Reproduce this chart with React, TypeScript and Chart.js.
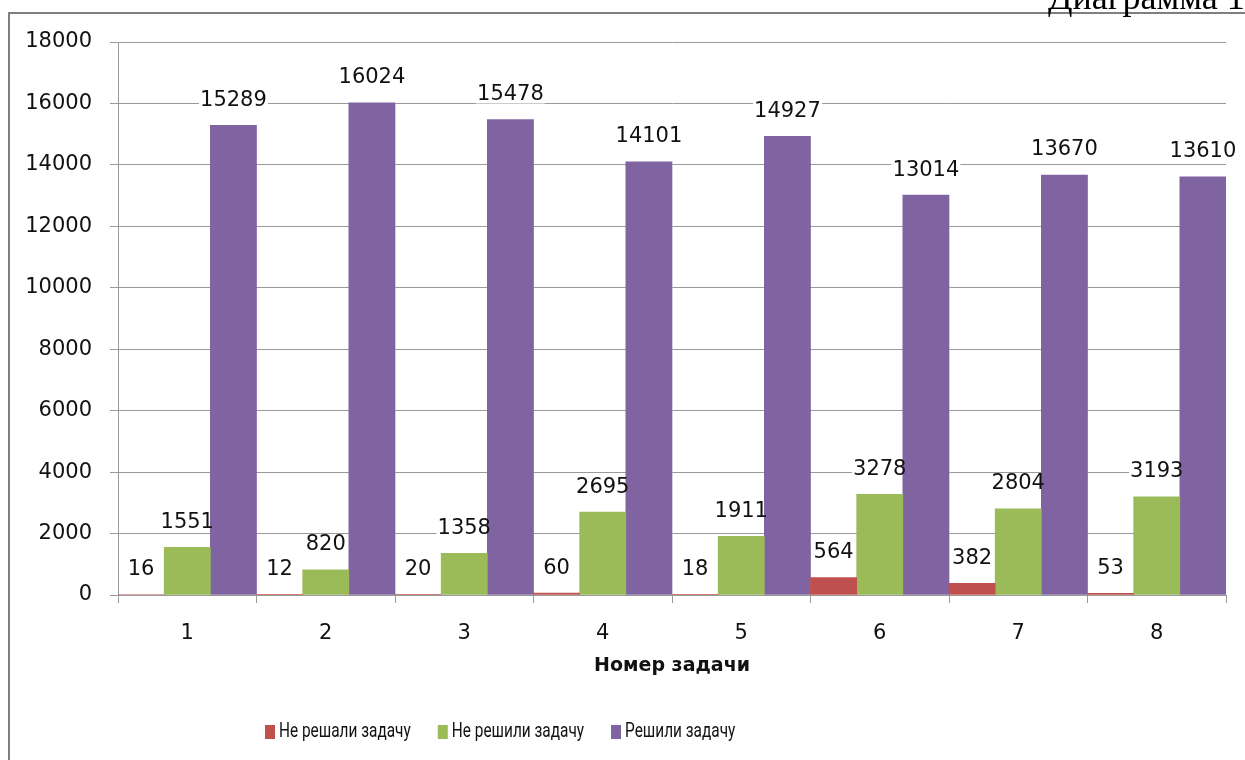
import React, { useEffect, useRef } from 'react';
import { Chart, registerables } from 'chart.js';

Chart.register(...registerables);

const categories = ['1', '2', '3', '4', '5', '6', '7', '8'];
const notAttempted = [16, 12, 20, 60, 18, 564, 382, 53];
const notSolved = [1551, 820, 1358, 2695, 1911, 3278, 2804, 3193];
const solved = [15289, 16024, 15478, 14101, 14927, 13014, 13670, 13610];
const seriesNames = ['Не решали задачу', 'Не решили задачу', 'Решили задачу'];
const seriesColors = ['#C0504D', '#9BBB59', '#8064A2'];
const yMin = 0;
const yMax = 18000;
const yStep = 2000;
const axisTitle = 'Номер задачи';
const captionText = 'Диаграмма 1';

const NUM_FONT = '"DejaVu Sans", sans-serif';
const LEGEND_FONT = 'Roboto, "Liberation Sans", sans-serif';
const GRID = '#9a9a9a';
const TEXT = '#111111';

const framePlugin = {
  id: 'frame',
  beforeDraw(chart: any) {
    const ctx = chart.ctx;
    ctx.save();
    ctx.fillStyle = '#ffffff';
    ctx.fillRect(0, 0, chart.width, chart.height);
    ctx.strokeStyle = '#7f7f7f';
    ctx.lineWidth = 2;
    ctx.strokeRect(9, 13, chart.width + 40, chart.height + 40);
    ctx.fillStyle = '#000000';
    ctx.font = '36px "Liberation Serif", "Times New Roman", serif';
    ctx.textAlign = 'left';
    ctx.textBaseline = 'alphabetic';
    ctx.fillText(captionText, 1048, 9);
    ctx.restore();
  },
};

const LABEL_FONT = '21px ' + NUM_FONT;
const LABEL_OFFSET = 25;

const valueLabelPlugin = {
  id: 'valueLabels',
  beforeDatasetsDraw(chart: any) {
    const ctx = chart.ctx;
    ctx.save();
    ctx.font = LABEL_FONT;
    ctx.fillStyle = '#ffffff';
    chart.data.datasets.forEach((ds: any, di: number) => {
      const meta = chart.getDatasetMeta(di);
      meta.data.forEach((bar: any, i: number) => {
        const txt = String(ds.data[i]);
        const y = bar.y - LABEL_OFFSET;
        const w = ctx.measureText(txt).width;
        ctx.fillRect(bar.x - w / 2 - 1, y - 9, w + 2, 18);
      });
    });
    ctx.restore();
  },
  afterDatasetsDraw(chart: any) {
    const ctx = chart.ctx;
    ctx.save();
    ctx.font = LABEL_FONT;
    ctx.textAlign = 'center';
    ctx.textBaseline = 'middle';
    ctx.fillStyle = TEXT;
    chart.data.datasets.forEach((ds: any, di: number) => {
      const meta = chart.getDatasetMeta(di);
      meta.data.forEach((bar: any, i: number) => {
        ctx.fillText(String(ds.data[i]), bar.x, bar.y - LABEL_OFFSET);
      });
    });
    ctx.restore();
  },
};

const legendPlugin = {
  id: 'customLegend',
  afterDraw(chart: any) {
    const ctx = chart.ctx;
    ctx.save();
    ctx.font = '20px ' + LEGEND_FONT;
    ctx.textBaseline = 'middle';
    ctx.textAlign = 'left';
    const squeeze = 0.77;
    const boxW = 10;
    const boxH = 14;
    const gapBox = 4;
    const gapItem = 27;
    const items = chart.data.datasets.map((ds: any) => ({
      text: ds.label,
      color: ds.backgroundColor,
      tw: ctx.measureText(ds.label).width * squeeze,
    }));
    const cy = 732;
    let x = 265;
    items.forEach((it: any) => {
      ctx.fillStyle = it.color;
      ctx.fillRect(x, cy - boxH / 2, boxW, boxH);
      ctx.fillStyle = TEXT;
      ctx.save();
      ctx.translate(x + boxW + gapBox, cy);
      ctx.scale(squeeze, 1);
      ctx.fillText(it.text, 0, 0);
      ctx.restore();
      x += boxW + gapBox + it.tw + gapItem;
    });
    ctx.restore();
  },
};

export default function App() {
  const ref = useRef<HTMLCanvasElement | null>(null);

  useEffect(() => {
    if (!ref.current) return;
    const chart = new Chart(ref.current, {
      type: 'bar',
      data: {
        labels: categories,
        datasets: [
          { label: seriesNames[0], data: notAttempted, backgroundColor: seriesColors[0] },
          { label: seriesNames[1], data: notSolved, backgroundColor: seriesColors[1] },
          { label: seriesNames[2], data: solved, backgroundColor: seriesColors[2] },
        ].map((d) => ({ ...d, borderWidth: 0, barPercentage: 1, categoryPercentage: 1 })),
      },
      options: {
        responsive: false,
        animation: false,
        devicePixelRatio: 1,
        layout: { padding: { top: 42, right: 19, left: 0, bottom: 83 } },
        plugins: {
          legend: { display: false },
          tooltip: { enabled: false },
        },
        scales: {
          x: {
            ticks: { padding: 18, color: TEXT, font: { family: NUM_FONT, size: 21 } },
            grid: { drawOnChartArea: false, drawTicks: true, tickLength: 8, color: GRID, offset: true },
            border: { color: GRID, width: 1 },
            title: {
              display: true,
              text: axisTitle,
              color: TEXT,
              font: { family: NUM_FONT, size: 19, weight: 'bold' },
              padding: { top: 0, bottom: 0 },
            },
            afterFit: (s: any) => {
              s.height = 82;
            },
          },
          y: {
            min: yMin,
            max: yMax,
            ticks: {
              stepSize: yStep,
              padding: 18,
              color: TEXT,
              font: { family: NUM_FONT, size: 21 },
              callback: (v: any) => String(v),
            },
            grid: { color: GRID, lineWidth: 1, tickLength: 8, drawTicks: true },
            border: { color: GRID, width: 1 },
            afterFit: (s: any) => {
              s.width = 118;
            },
          },
        },
      } as any,
      plugins: [framePlugin, valueLabelPlugin, legendPlugin],
    });
    return () => chart.destroy();
  }, []);

  return (
    <canvas
      ref={ref}
      width={1245}
      height={760}
      style={{ position: 'absolute', left: 0, top: 0, width: 1245, height: 760 }}
    />
  );
}
